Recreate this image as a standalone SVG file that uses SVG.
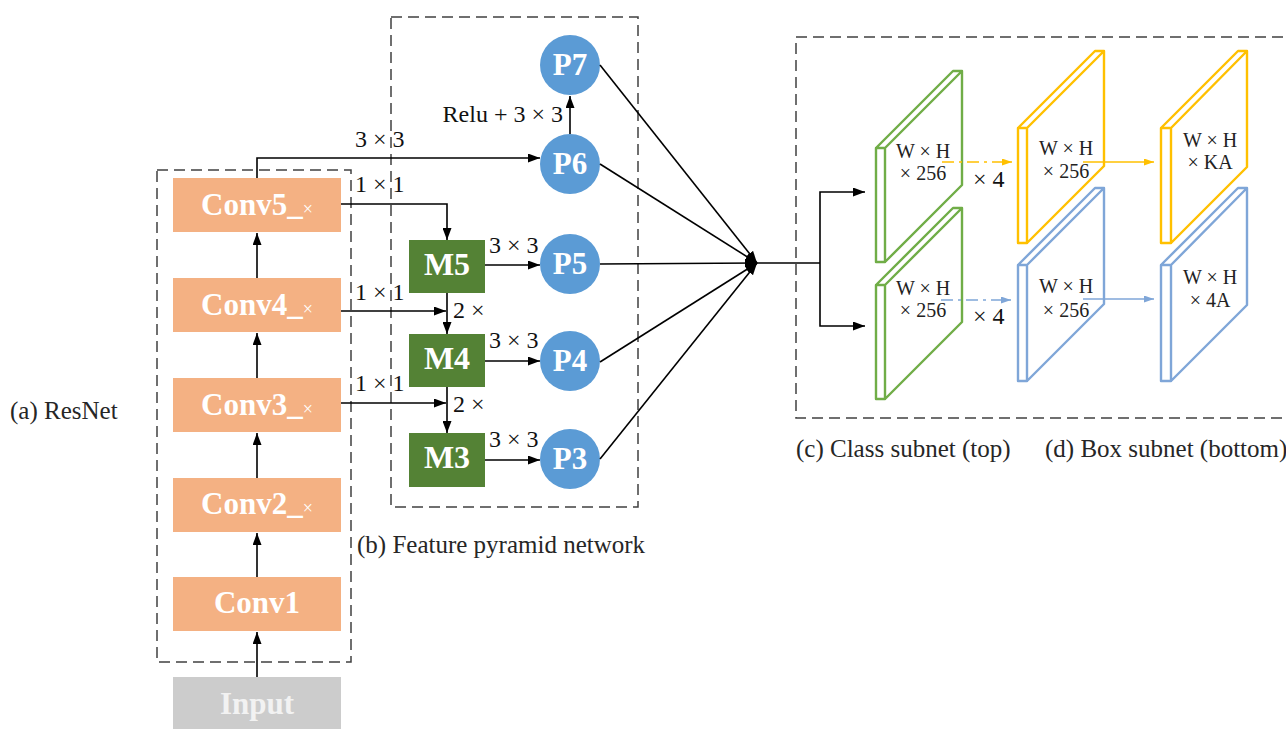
<svg xmlns="http://www.w3.org/2000/svg" width="1286" height="729" viewBox="0 0 1286 729">
  <style>
    .frame { fill: none; stroke: #404040; stroke-width: 1.5; stroke-dasharray: 11 6; }
    .conv { fill: #f4b183; }
    .merge { fill: #548235; }
    .pnode { fill: #5b9bd5; }
    .ntext { font-family: "Liberation Serif", "Times New Roman", serif; font-weight: bold; fill: #ffffff; text-anchor: middle; }
    .small { font-weight: normal; font-size: 18px; }
    .lbl { font-family: "Liberation Serif", "Times New Roman", serif; font-size: 24px; fill: #111111; }
    .cap { font-family: "Liberation Serif", "Times New Roman", serif; font-size: 25px; fill: #262626; }
    .slabtxt { font-family: "Liberation Serif", "Times New Roman", serif; font-size: 20px; fill: #222222; text-anchor: middle; }
    .wire { fill: none; stroke: #000000; stroke-width: 1.6; }
    .arrow { marker-end: url(#head); }
    .green { fill: #ffffff; stroke: #70ad47; stroke-width: 2.4; stroke-linejoin: round; }
    .yellow { fill: #ffffff; stroke: #ffc000; stroke-width: 2.4; stroke-linejoin: round; }
    .blue { fill: #ffffff; stroke: #7fa6d8; stroke-width: 2.4; stroke-linejoin: round; }
  </style>
  <defs>
    <marker id="head" viewBox="0 0 12 9" refX="12" refY="4.5" markerWidth="12" markerHeight="9" markerUnits="userSpaceOnUse" orient="auto">
      <path d="M0,0 L12,4.5 L0,9 z" fill="#000000"/>
    </marker>
    <marker id="headY" viewBox="0 0 10 7" refX="10" refY="3.5" markerWidth="10" markerHeight="7" markerUnits="userSpaceOnUse" orient="auto">
      <path d="M0,0 L10,3.5 L0,7 z" fill="#ffc000"/>
    </marker>
    <marker id="headB" viewBox="0 0 10 7" refX="10" refY="3.5" markerWidth="10" markerHeight="7" markerUnits="userSpaceOnUse" orient="auto">
      <path d="M0,0 L10,3.5 L0,7 z" fill="#7fa6d8"/>
    </marker>
  </defs>

  <rect width="1286" height="729" fill="#ffffff"/>

  <!-- dashed frames around the three stages -->
  <g id="frames">
    <rect class="frame" x="157" y="170" width="194" height="492"/>
    <rect class="frame" x="391" y="17" width="247" height="490"/>
    <rect class="frame" x="796" y="37" width="520" height="381"/>
  </g>

  <!-- backbone -->
  <g id="input">
    <rect x="173" y="677" width="168" height="56" fill="#cccccc"/>
    <text class="ntext" x="257" y="714" font-size="31" style="fill:#f2f2f2">Input</text>
  </g>
  <g id="conv1">
    <rect class="conv" x="173" y="577" width="168" height="54"/>
    <text class="ntext" x="257" y="613" font-size="31">Conv1</text>
  </g>
  <g id="conv2">
    <rect class="conv" x="173" y="478" width="168" height="54"/>
    <text class="ntext" x="257" y="514" font-size="31">Conv2_<tspan class="small">×</tspan></text>
  </g>
  <g id="conv3">
    <rect class="conv" x="173" y="378" width="168" height="54"/>
    <text class="ntext" x="257" y="415" font-size="31">Conv3_<tspan class="small">×</tspan></text>
  </g>
  <g id="conv4">
    <rect class="conv" x="173" y="278" width="168" height="54"/>
    <text class="ntext" x="257" y="315" font-size="31">Conv4_<tspan class="small">×</tspan></text>
  </g>
  <g id="conv5">
    <rect class="conv" x="173" y="178" width="168" height="54"/>
    <text class="ntext" x="257" y="215" font-size="31">Conv5_<tspan class="small">×</tspan></text>
  </g>

  <!-- feature pyramid -->
  <g id="m5">
    <rect class="merge" x="409" y="240" width="76" height="53"/>
    <text class="ntext" x="447" y="275" font-size="32">M5</text>
  </g>
  <g id="m4">
    <rect class="merge" x="409" y="334" width="76" height="53"/>
    <text class="ntext" x="447" y="369" font-size="32">M4</text>
  </g>
  <g id="m3">
    <rect class="merge" x="409" y="433" width="76" height="54"/>
    <text class="ntext" x="447" y="468" font-size="32">M3</text>
  </g>
  <g id="p7">
    <circle class="pnode" cx="570" cy="65" r="30"/>
    <text class="ntext" x="570" y="75" font-size="31">P7</text>
  </g>
  <g id="p6">
    <circle class="pnode" cx="570" cy="164" r="30"/>
    <text class="ntext" x="570" y="174" font-size="31">P6</text>
  </g>
  <g id="p5">
    <circle class="pnode" cx="570" cy="264" r="30"/>
    <text class="ntext" x="570" y="274" font-size="31">P5</text>
  </g>
  <g id="p4">
    <circle class="pnode" cx="570" cy="361" r="30"/>
    <text class="ntext" x="570" y="371" font-size="31">P4</text>
  </g>
  <g id="p3">
    <circle class="pnode" cx="570" cy="459" r="30"/>
    <text class="ntext" x="570" y="469" font-size="31">P3</text>
  </g>

  <!-- subnet feature maps -->
  <g id="cls-in">
    <path class="green" d="M876,148 L885,148 L885,262 L876,262 Z M876,148 L953,71 L962,71 L885,148 M885,148 L962,71 L962,185 L885,262"/>
    <text class="slabtxt" x="923" y="158">W × H</text>
    <text class="slabtxt" x="923" y="180">× 256</text>
  </g>
  <g id="box-in">
    <path class="green" d="M876,285 L885,285 L885,399 L876,399 Z M876,285 L953,208 L962,208 L885,285 M885,285 L962,208 L962,322 L885,399"/>
    <text class="slabtxt" x="923" y="295">W × H</text>
    <text class="slabtxt" x="923" y="317">× 256</text>
  </g>
  <g id="cls-mid">
    <path class="yellow" d="M1018,128 L1027,128 L1027,243 L1018,243 Z M1018,128 L1095,51 L1104,51 L1027,128 M1027,128 L1104,51 L1104,166 L1027,243"/>
    <text class="slabtxt" x="1066" y="155">W × H</text>
    <text class="slabtxt" x="1066" y="178">× 256</text>
  </g>
  <g id="box-mid">
    <path class="blue" d="M1018,265 L1027,265 L1027,381 L1018,381 Z M1018,265 L1095,188 L1104,188 L1027,265 M1027,265 L1104,188 L1104,304 L1027,381"/>
    <text class="slabtxt" x="1066" y="293">W × H</text>
    <text class="slabtxt" x="1066" y="317">× 256</text>
  </g>
  <g id="cls-out">
    <path class="yellow" d="M1161,128 L1171,128 L1171,243 L1161,243 Z M1161,128 L1238,51 L1247,51 L1171,128 M1171,128 L1247,51 L1247,167 L1171,243"/>
    <text class="slabtxt" x="1210" y="147">W × H</text>
    <text class="slabtxt" x="1210" y="169">× KA</text>
  </g>
  <g id="box-out">
    <path class="blue" d="M1161,265 L1171,265 L1171,381 L1161,381 Z M1161,265 L1238,188 L1247,188 L1171,265 M1171,265 L1247,188 L1247,305 L1171,381"/>
    <text class="slabtxt" x="1210" y="284">W × H</text>
    <text class="slabtxt" x="1210" y="307">× 4A</text>
  </g>

  <!-- connectors -->
  <g id="connectors">
    <!-- backbone chain -->
    <line class="wire arrow" x1="257" y1="677" x2="257" y2="632"/>
    <line class="wire arrow" x1="257" y1="577" x2="257" y2="533"/>
    <line class="wire arrow" x1="257" y1="478" x2="257" y2="433"/>
    <line class="wire arrow" x1="257" y1="378" x2="257" y2="333"/>
    <line class="wire arrow" x1="257" y1="278" x2="257" y2="233"/>
    <!-- lateral links -->
    <polyline class="wire arrow" points="257,178 257,158 540,158"/>
    <polyline class="wire arrow" points="341,204 447,204 447,240"/>
    <line class="wire arrow" x1="341" y1="311" x2="446" y2="311"/>
    <line class="wire arrow" x1="341" y1="403" x2="446" y2="403"/>
    <!-- top-down path -->
    <line class="wire arrow" x1="447" y1="293" x2="447" y2="334"/>
    <line class="wire arrow" x1="447" y1="387" x2="447" y2="433"/>
    <!-- smoothing convs -->
    <line class="wire arrow" x1="485" y1="265" x2="540" y2="265"/>
    <line class="wire arrow" x1="485" y1="361" x2="540" y2="361"/>
    <line class="wire arrow" x1="485" y1="460" x2="540" y2="460"/>
    <line class="wire arrow" x1="570" y1="134" x2="570" y2="96"/>
    <!-- pyramid levels to the heads -->
    <line class="wire arrow" x1="600" y1="65" x2="757" y2="263"/>
    <line class="wire arrow" x1="600" y1="164" x2="757" y2="263"/>
    <line class="wire arrow" x1="600" y1="264" x2="757" y2="263"/>
    <line class="wire arrow" x1="600" y1="362" x2="757" y2="263"/>
    <line class="wire arrow" x1="600" y1="459" x2="757" y2="263"/>
    <line class="wire" x1="755" y1="263" x2="820" y2="263"/>
    <polyline class="wire arrow" points="820,263 820,192 865,192"/>
    <polyline class="wire arrow" points="820,263 820,326 865,326"/>
    <!-- head convs -->
    <line x1="942" y1="162" x2="1012" y2="162" stroke="#ffc000" stroke-width="1.6" stroke-dasharray="12 5 3 5" marker-end="url(#headY)"/>
    <line x1="941" y1="300" x2="1011" y2="300" stroke="#7fa6d8" stroke-width="1.6" stroke-dasharray="12 5 3 5" marker-end="url(#headB)"/>
    <line x1="1083" y1="162" x2="1154" y2="162" stroke="#ffc000" stroke-width="1.6" marker-end="url(#headY)"/>
    <line x1="1083" y1="299" x2="1154" y2="299" stroke="#7fa6d8" stroke-width="1.6" marker-end="url(#headB)"/>
  </g>

  <!-- operation labels -->
  <g id="labels">
    <text class="lbl" x="355" y="147">3 × 3</text>
    <text class="lbl" x="355" y="192">1 × 1</text>
    <text class="lbl" x="355" y="300">1 × 1</text>
    <text class="lbl" x="355" y="391">1 × 1</text>
    <text class="lbl" x="453" y="318">2 ×</text>
    <text class="lbl" x="453" y="412">2 ×</text>
    <text class="lbl" x="489" y="253">3 × 3</text>
    <text class="lbl" x="489" y="348">3 × 3</text>
    <text class="lbl" x="489" y="447">3 × 3</text>
    <text class="lbl" x="563" y="122" text-anchor="end">Relu + 3 × 3</text>
    <text class="lbl" x="973" y="187" font-size="21">× 4</text>
    <text class="lbl" x="973" y="324" font-size="21">× 4</text>
  </g>

  <!-- stage captions -->
  <g id="captions">
    <text class="cap" x="10" y="419">(a) ResNet</text>
    <text class="cap" x="357" y="553">(b) Feature pyramid network</text>
    <text class="cap" x="796" y="457">(c) Class subnet (top)</text>
    <text class="cap" x="1045" y="457">(d) Box subnet (bottom)</text>
  </g>
</svg>
